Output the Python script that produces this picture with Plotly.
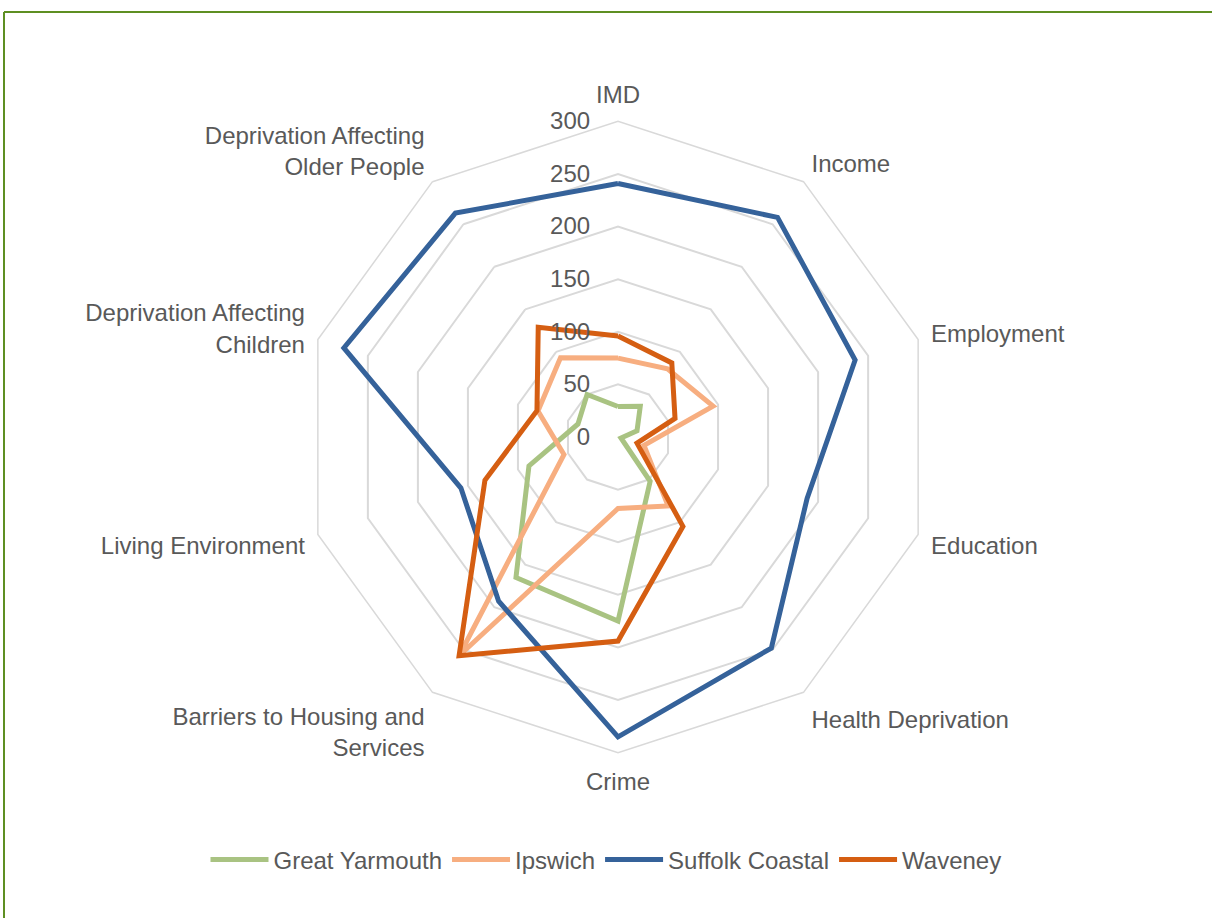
import plotly.graph_objects as go

categories = ["IMD", "Income", "Employment", "Education", "Health Deprivation", "Crime",
              "Barriers to Housing and<br>Services", "Living Environment",
              "Deprivation Affecting<br>Children", "Deprivation Affecting<br>Older People"]
great_yarmouth = [29, 36, 19, 3, 52, 175, 165, 89, 40, 50]
ipswich = [75, 80, 95, 26, 81, 68, 257, 54, 80, 93]
suffolk_coastal = [241, 258, 237, 189, 248, 285, 193, 157, 274, 263]
waveney = [96, 87, 57, 19, 105, 194, 257, 133, 81, 129]
radial_ticks = [0, 50, 100, 150, 200, 250, 300]

# right-align tick labels to three digits (2 no-break spaces ~ 1 digit width)
radial_text = ["\u00a0\u00a0" * (3 - len(str(v))) + str(v) for v in radial_ticks]

series = [
    ("Great Yarmouth", great_yarmouth, "#A9C382"),
    ("Ipswich", ipswich, "#F7AE80"),
    ("Suffolk Coastal", suffolk_coastal, "#35629A"),
    ("Waveney", waveney, "#D55E12"),
]

fig = go.Figure()
for name, vals, col in series:
    fig.add_trace(go.Scatterpolar(
        r=vals + vals[:1], theta=categories + categories[:1], name=name,
        mode="lines", line=dict(color=col, width=5), fill="none"))

W, H = 1212, 918
cx, cy, R = 618, 437, 315.6
FS = 24
fig.update_layout(
    width=W, height=H,
    margin=dict(l=0, r=0, t=0, b=0),
    paper_bgcolor="white", plot_bgcolor="white",
    font=dict(family="Liberation Sans, Arial, sans-serif", size=FS, color="#595959"),
    polar=dict(
        domain=dict(x=[(cx - R) / W, (cx + R) / W], y=[(H - cy - R) / H, (H - cy + R) / H]),
        gridshape="linear",
        bgcolor="white",
        radialaxis=dict(range=[0, 300], tickvals=radial_ticks, ticktext=radial_text,
                        angle=90, tickangle=90, side="counterclockwise",
                        showline=False, gridcolor="#D9D9D9", gridwidth=1.5,
                        ticks="outside", ticklen=19, tickcolor="rgba(0,0,0,0)",
                        tickfont=dict(size=FS, color="#595959")),
        angularaxis=dict(rotation=90, direction="clockwise", showgrid=False,
                         showline=True, linecolor="#D9D9D9", linewidth=1.5,
                         ticks="outside", ticklen=8, tickcolor="rgba(0,0,0,0)",
                         tickfont=dict(size=FS, color="#595959")),
    ),
    legend=dict(orientation="h", x=0.5, xanchor="center", y=(H - 860) / H, yanchor="middle",
                font=dict(size=FS, color="#595959"), itemwidth=58),
    shapes=[
        dict(type="line", xref="paper", yref="paper", x0=4 / W, x1=1, y0=1 - 12 / H, y1=1 - 12 / H,
             line=dict(color="#5E8F22", width=2)),
        dict(type="line", xref="paper", yref="paper", x0=4 / W, x1=4 / W, y0=0, y1=1 - 12 / H,
             line=dict(color="#5E8F22", width=2)),
    ],
)
fig.write_html("out.html", config={"displayModeBar": False},
               post_script="document.body.style.margin='0px';")
